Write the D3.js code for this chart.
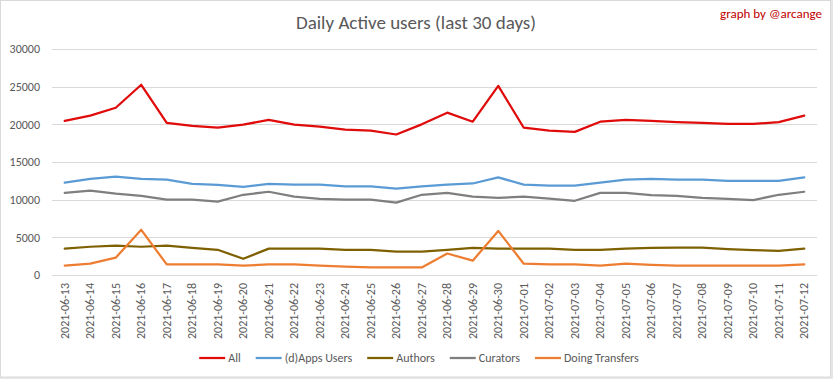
<!DOCTYPE html>
<html><head><meta charset="utf-8">
<script src="https://cdn.jsdelivr.net/npm/d3@7/dist/d3.min.js"></script>
<style>html,body{margin:0;padding:0;background:#fff;}svg{display:block;}</style>
</head><body>
<script>
const dates = ["2021-06-13","2021-06-14","2021-06-15","2021-06-16","2021-06-17","2021-06-18","2021-06-19","2021-06-20","2021-06-21","2021-06-22","2021-06-23","2021-06-24","2021-06-25","2021-06-26","2021-06-27","2021-06-28","2021-06-29","2021-06-30","2021-07-01","2021-07-02","2021-07-03","2021-07-04","2021-07-05","2021-07-06","2021-07-07","2021-07-08","2021-07-09","2021-07-10","2021-07-11","2021-07-12"];
const allUsers = [20450,21150,22200,25250,20200,19800,19550,19950,20600,19950,19700,19300,19150,18650,20000,21550,20350,25100,19550,19150,19000,20350,20600,20450,20300,20200,20050,20050,20300,21150];
const appsUsers = [12250,12750,13050,12750,12650,12100,11950,11700,12100,12000,12000,11750,11750,11450,11750,12000,12150,12950,12000,11850,11850,12250,12650,12750,12650,12650,12500,12500,12500,12950];
const authors = [3500,3750,3900,3750,3900,3600,3350,2150,3500,3500,3500,3350,3350,3100,3100,3350,3600,3500,3500,3500,3350,3350,3500,3600,3650,3650,3450,3300,3200,3500];
const curators = [10900,11200,10800,10500,10000,10000,9750,10650,11050,10400,10100,10000,10000,9600,10650,10900,10400,10250,10400,10150,9850,10900,10900,10600,10500,10250,10100,9950,10650,11050];
const transfers = [1250,1500,2300,6000,1400,1400,1400,1250,1400,1400,1250,1100,1000,1000,1000,2850,1900,5850,1500,1400,1400,1250,1500,1350,1250,1250,1250,1250,1250,1400];
const yTicks = [0,5000,10000,15000,20000,25000,30000];
const seriesNames = ["All","(d)Apps Users","Authors","Curators","Doing Transfers"];
const seriesColors = ["#e00b0b","#5b9bd5","#7f6000","#7f7f7f","#ed7d31"];
const seriesValues = [allUsers, appsUsers, authors, curators, transfers];

const W = 833, H = 379;
const margin = {left: 52, right: 16, top: 49, bottom: 104};
const svg = d3.select("body").append("svg").attr("width", W).attr("height", H);
svg.append("rect").attr("width", W).attr("height", H).attr("fill", "#e6e6e6");
svg.append("rect").attr("x", 0.5).attr("y", 0.5).attr("width", W - 3).attr("height", H - 2.5)
  .attr("fill", "#fff").attr("stroke", "#d9d9d9");

const font = "Calibri, Carlito, 'Liberation Sans Narrow', 'Open Sans', sans-serif";
const x = d3.scaleBand().domain(dates).range([margin.left, W - margin.right]);
const y = d3.scaleLinear().domain([0, 30000]).range([H - margin.bottom, margin.top]);

// gridlines
svg.append("g").selectAll("line").data(yTicks).join("line")
  .attr("x1", margin.left).attr("x2", W - margin.right)
  .attr("y1", d => Math.round(y(d)) + 0.5).attr("y2", d => Math.round(y(d)) + 0.5)
  .attr("stroke", "#d9d9d9").attr("stroke-width", 1);

// y axis
const yAxis = svg.append("g").attr("transform", `translate(${margin.left - 12},0)`)
  .call(d3.axisLeft(y).tickValues(yTicks).tickSize(0).tickPadding(0).tickFormat(d3.format("d")));
yAxis.select(".domain").remove();
yAxis.selectAll("text").attr("fill", "#595959").style("font-family", font).style("font-size", "12px");

// x axis
const xAxis = svg.append("g").attr("transform", `translate(0,${H - margin.bottom})`)
  .call(d3.axisBottom(x).tickSize(0).tickPadding(0));
xAxis.select(".domain").remove();
xAxis.selectAll("text")
  .attr("transform", "rotate(-90)")
  .attr("text-anchor", "end")
  .attr("x", -8).attr("y", 0).attr("dy", "0.35em")
  .attr("fill", "#595959").style("font-family", font).style("font-size", "12px");

// lines
const line = d3.line().x((d, i) => x(dates[i]) + x.bandwidth() / 2).y(d => y(d));
svg.append("g").selectAll("path").data(seriesValues).join("path")
  .attr("d", d => line(d)).attr("fill", "none")
  .attr("stroke", (d, i) => seriesColors[i]).attr("stroke-width", 2.25)
  .attr("stroke-linejoin", "round").attr("stroke-linecap", "round");

// title
svg.append("text").attr("x", 416).attr("y", 29)
  .attr("text-anchor", "middle").attr("fill", "#595959")
  .style("font-family", font).style("font-size", "19px").text("Daily Active users (last 30 days)");
svg.append("text").attr("x", 822).attr("y", 18).attr("text-anchor", "end")
  .attr("fill", "#c00000").style("font-family", font).style("font-size", "13px").text("graph by @arcange");

// legend
const lg = svg.append("g");
const items = lg.selectAll("g").data(seriesNames).join("g");
items.append("line").attr("x1", 0).attr("x2", 26).attr("y1", 0).attr("y2", 0)
  .attr("stroke", (d, i) => seriesColors[i]).attr("stroke-width", 2.25);
items.append("text").attr("x", 29).attr("dy", "0.35em").attr("fill", "#595959")
  .style("font-family", font).style("font-size", "12px").text(d => d);
let widths = [];
items.each(function() { widths.push(29 + this.querySelector("text").getComputedTextLength()); });
const gap = 15;
const total = d3.sum(widths) + gap * (widths.length - 1);
let cx = 419 - total / 2;
items.attr("transform", (d, i) => { const t = `translate(${cx},358)`; cx += widths[i] + gap; return t; });
</script>
</body></html>
